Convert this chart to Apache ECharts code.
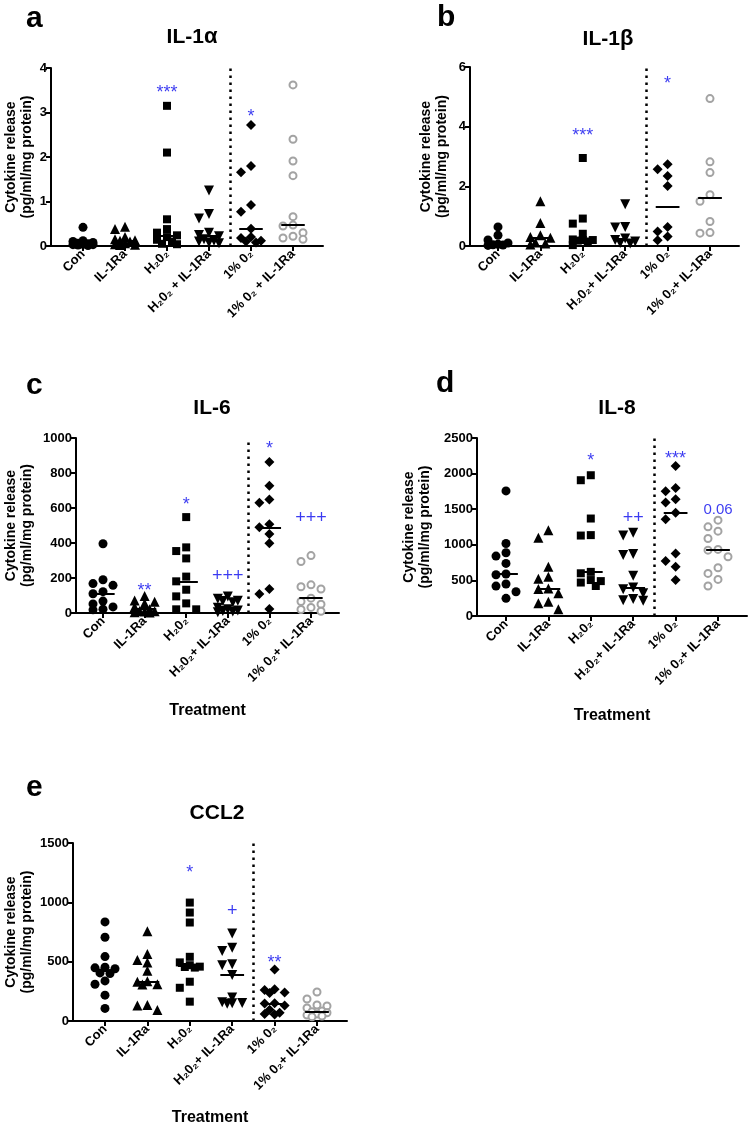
<!DOCTYPE html>
<html>
<head>
<meta charset="utf-8">
<script src="https://cdn.jsdelivr.net/npm/echarts@6/dist/echarts.min.js"></script>
<style>
  html, body { margin: 0; padding: 0; background: #fff; }
  #chart { width: 749px; height: 1127px; }
</style>
</head>
<body>
<div id="chart"></div>
<script>
// ── Datos ────────────────────────────────────────────────
const CATS   = ['Con', 'IL-1Ra', 'H₂0₂', 'H₂0₂+ IL-1Ra', '1% 0₂', '1% 0₂+ IL-1Ra']
const CATS_A = ['Con', 'IL-1Ra', 'H₂0₂', 'H₂0₂ + IL-1Ra', '1% 0₂', '1% 0₂ + IL-1Ra']

// un array por grupo, en el orden de CATS
const IL1A = [
  [0.42, 0.12, 0.1, 0.08, 0.06, 0.05, 0.04, 0.03, 0.03, 0.02, 0.01],
  [0.43, 0.38, 0.2, 0.15, 0.13, 0.12, 0.1, 0.06, 0.04, 0.03, 0.02],
  [3.15, 2.1, 0.6, 0.38, 0.3, 0.24, 0.2, 0.14, 0.1, 0.05, 0.04],
  [1.25, 0.72, 0.62, 0.3, 0.25, 0.22, 0.15, 0.12, 0.1, 0.08, 0.06],
  [2.72, 1.8, 1.66, 0.92, 0.77, 0.39, 0.2, 0.18, 0.12, 0.1, 0.08],
  [3.62, 2.4, 1.91, 1.58, 0.66, 0.47, 0.45, 0.3, 0.22, 0.18, 0.15],
]
const IL1B = [
  [0.64, 0.36, 0.2, 0.1, 0.06, 0.04, 0.03, 0.02],
  [1.5, 0.77, 0.36, 0.3, 0.28, 0.12, 0.08, 0.05],
  [2.95, 0.92, 0.75, 0.41, 0.22, 0.2, 0.2, 0.18, 0.15, 0.03],
  [1.4, 0.64, 0.62, 0.25, 0.2, 0.15, 0.1, 0.08],
  [2.74, 2.57, 2.35, 2.01, 0.64, 0.49, 0.32, 0.19],
  [4.94, 2.82, 2.46, 1.72, 1.5, 0.82, 0.45, 0.43],
]
const IL6 = [
  [396, 190, 168, 158, 122, 110, 68, 52, 35, 22, 18],
  [97, 72, 65, 55, 35, 22, 12, 10, 8, 5, 3],
  [548, 375, 354, 312, 208, 181, 133, 95, 55, 21, 21],
  [95, 82, 70, 68, 62, 30, 22, 15, 12, 8, 5],
  [863, 727, 649, 630, 507, 490, 452, 398, 137, 108, 23],
  [328, 294, 161, 150, 137, 85, 66, 50, 32, 20, 10],
]
const IL8 = [
  [1757, 1019, 888, 841, 739, 590, 580, 449, 420, 341, 248],
  [1206, 1098, 691, 551, 523, 385, 380, 318, 201, 178, 94],
  [1977, 1907, 1369, 1136, 1130, 620, 600, 505, 490, 470, 421],
  [1168, 1131, 870, 855, 565, 402, 374, 318, 240, 220, 215],
  [2108, 1799, 1752, 1640, 1594, 1449, 1360, 879, 771, 692, 505],
  [1346, 1252, 1192, 1089, 935, 925, 832, 678, 598, 514, 421],
]
const CCL2 = [
  [835, 706, 543, 453, 448, 440, 405, 400, 338, 310, 218, 106],
  [757, 564, 513, 494, 423, 336, 330, 310, 308, 135, 130, 93],
  [998, 914, 830, 541, 494, 470, 458, 455, 450, 331, 280, 163],
  [737, 617, 589, 479, 470, 387, 199, 158, 152, 150, 145],
  [435, 267, 262, 240, 235, 150, 148, 130, 95, 70, 60, 55],
  [244, 185, 135, 126, 110, 85, 78, 70, 60, 50, 42, 35],
]

// anotaciones de significancia: [texto, grupo, valor]
const IL1A_MARKS = [['***', 2, 3.53], ['*', 4, 2.98]]
const IL1B_MARKS = [['***', 2, 3.82], ['*', 4, 5.55]]
const IL6_MARKS  = [['**', 1, 150], ['*', 2, 641], ['+++', 3, 214], ['*', 4, 958], ['+++', 5, 541]]
const IL8_MARKS  = [['*', 2, 2234], ['++', 3, 1369], ['***', 4, 2257], ['0.06', 5, 1495]]
const CCL2_MARKS = [['*', 2, 1279], ['+', 3, 928], ['**', 4, 522]]

// ticks del eje Y
const IL1A_YTICKS = [0, 1, 2, 3, 4]
const IL1B_YTICKS = [0, 2, 4, 6]
const IL6_YTICKS  = [0, 200, 400, 600, 800, 1000]
const IL8_YTICKS  = [0, 500, 1000, 1500, 2000, 2500]
const CCL2_YTICKS = [0, 500, 1000, 1500]

// ── Layout ──────────────────────────────────────────────
const FONT = "'Liberation Sans', Arial, sans-serif"
const BLUE = '#0a0aee'

const panels = [
  { letter: 'a', title: '{b|IL-1}{g|α}', data: IL1A, marks: IL1A_MARKS, yt: IL1A_YTICKS, cats: CATS_A,
    left: 51, right: 323, top: 68, bottom: 246, cat0: 83, sp: 42, yGap: 16, lx: 21, ly: -1, tx: 187, ty: 21, treat: null },
  { letter: 'b', title: '{b|IL-1}{g|β}', data: IL1B, marks: IL1B_MARKS, yt: IL1B_YTICKS, cats: CATS,
    left: 470, right: 739, top: 67, bottom: 246, cat0: 498, sp: 42.4, yGap: 20, lx: 432, ly: -2, tx: 603, ty: 23, treat: null },
  { letter: 'c', title: '{b|IL-6}', data: IL6, marks: IL6_MARKS, yt: IL6_YTICKS, cats: CATS,
    left: 76, right: 339, top: 438, bottom: 613, cat0: 103, sp: 41.6, yGap: 41, lx: 21, ly: 366, tx: 207, ty: 393, treat: 90 },
  { letter: 'd', title: '{b|IL-8}', data: IL8, marks: IL8_MARKS, yt: IL8_YTICKS, cats: CATS,
    left: 477, right: 747, top: 438, bottom: 616, cat0: 506, sp: 42.4, yGap: 44, lx: 431, ly: 364, tx: 612, ty: 393, treat: 92 },
  { letter: 'e', title: '{b|CCL2}', data: CCL2, marks: CCL2_MARKS, yt: CCL2_YTICKS, cats: CATS,
    left: 73, right: 347, top: 843, bottom: 1021, cat0: 105, sp: 42.4, yGap: 38, lx: 21, ly: 768, tx: 212, ty: 798, treat: 89 },
]

// símbolo de cada grupo
const GROUP_STYLE = [
  { symbol: 'circle',   size: 9,  rotate: 0 },
  { symbol: 'triangle', size: 10, rotate: 0 },
  { symbol: 'rect',     size: 8,  rotate: 0 },
  { symbol: 'triangle', size: 10, rotate: 180 },
  { symbol: 'diamond',  size: 10, rotate: 0 },
  { symbol: 'circle',   size: 7,  rotate: 0, open: true },
]

function median(arr) {
  const s = [...arr].sort((a, b) => a - b)
  const m = Math.floor(s.length / 2)
  return s.length % 2 ? s[m] : (s[m - 1] + s[m]) / 2
}

/**
 * Beeswarm acotado: columnas en 0, ±10px y ±5px;
 * si ninguna está libre usa la que menos se solapa.
 */
function swarm(values, yPx, catPx) {
  const d = 8, cand = [0, -10, 10, -5, 5]
  const order = values.map((_, i) => i).sort((a, b) => values[b] - values[a])
  const placed = []
  const off = new Array(values.length).fill(0)
  order.forEach(i => {
    const y = values[i] * yPx
    let best = 0, bestDist = -1
    for (const dx of cand) {
      const dist = placed.length ? Math.min(...placed.map(p => Math.hypot(p.x - dx, p.y - y))) : Infinity
      if (dist >= d) { best = dx; break }
      if (dist > bestDist) { bestDist = dist; best = dx }
    }
    placed.push({ x: best, y })
    off[i] = best / catPx
  })
  return off
}

const titles = [], grids = [], xAxes = [], yAxes = [], series = []

panels.forEach((p, i) => {
  const yMax = p.yt[p.yt.length - 1]
  const yInt = p.yt[1] - p.yt[0]
  const yPx = (p.bottom - p.top) / yMax

  titles.push({ text: p.letter, left: p.lx, top: p.ly,
    textStyle: { fontFamily: FONT, fontSize: 30, fontWeight: 'bold', color: '#000' } })
  titles.push({ text: p.title, left: p.tx, top: p.ty, textAlign: 'center',
    textStyle: { fontFamily: FONT, color: '#000',
      rich: { b: { fontFamily: FONT, fontSize: 21, fontWeight: 'bold', color: '#000' },
              g: { fontFamily: FONT, fontSize: 22, color: '#000' } } } })

  grids.push({ left: p.left, top: p.top, width: p.right - p.left, height: p.bottom - p.top })

  xAxes.push({
    gridIndex: i, type: 'value',
    min: (p.left - p.cat0) / p.sp, max: (p.right - p.cat0) / p.sp,
    splitLine: { show: false },
    axisLine: { show: true, onZero: false, lineStyle: { color: '#000', width: 2 } },
    axisTick: { show: true, customValues: [0, 1, 2, 3, 4, 5], length: 5, lineStyle: { color: '#000', width: 2 } },
    axisLabel: { customValues: [0, 1, 2, 3, 4, 5], rotate: 45, margin: 6,
      formatter: v => p.cats[Math.round(v)],
      fontFamily: FONT, fontSize: 13, fontWeight: 'bold', color: '#000' },
    name: p.treat ? 'Treatment' : '', nameLocation: 'middle', nameGap: p.treat || 0,
    nameTextStyle: { fontFamily: FONT, fontSize: 16, fontWeight: 'bold', color: '#000' },
  })

  yAxes.push({
    gridIndex: i, type: 'value', min: 0, max: yMax, interval: yInt,
    splitLine: { show: false },
    axisLine: { show: true, onZero: false, lineStyle: { color: '#000', width: 2 } },
    axisTick: { show: true, length: 5, lineStyle: { color: '#000', width: 2 } },
    axisLabel: { margin: 4, formatter: v => String(v),
      fontFamily: FONT, fontSize: 13, fontWeight: 'bold', color: '#000' },
    name: 'Cytokine release\n(pg/ml/mg protein)', nameLocation: 'middle', nameGap: p.yGap, nameRotate: 90,
    nameTextStyle: { fontFamily: FONT, fontSize: 14, fontWeight: 'bold', color: '#000', lineHeight: 16 },
  })

  p.data.forEach((vals, g) => {
    const st = GROUP_STYLE[g]
    const off = swarm(vals, yPx, p.sp)
    const med = median(vals)
    const s = {
      type: 'scatter', xAxisIndex: i, yAxisIndex: i, silent: true,
      symbol: st.symbol, symbolSize: st.size, symbolRotate: st.rotate,
      itemStyle: st.open
        ? { color: '#fff', borderColor: '#a3a3a3', borderWidth: 2, opacity: 1 }
        : { color: '#000', opacity: 1 },
      data: vals.map((v, k) => [g + off[k], v]),
      markLine: {
        silent: true, symbol: 'none', label: { show: false },
        lineStyle: { color: '#000', width: 2, type: 'solid' },
        data: [[{ coord: [g - 0.28, med] }, { coord: [g + 0.28, med] }]],
      },
    }
    if (g === 0) {
      s.markLine.data.push({ xAxis: 3.5, lineStyle: { color: '#000', width: 2.5, type: [2.5, 4.5] } })
    }
    series.push(s)
  })

  series.push({
    type: 'scatter', xAxisIndex: i, yAxisIndex: i, silent: true,
    symbolSize: 1, itemStyle: { color: 'rgba(0,0,0,0)' },
    data: p.marks.map(m => ({
      name: m[0], value: [m[1], m[2]],
      label: {
        fontSize: m[0] === '0.06' ? 15 : 18,
        offset: m[0].startsWith('*') ? [0, 4] : [0, 0],
      },
    })),
    label: { show: true, position: 'inside', formatter: '{b}', fontFamily: FONT, color: BLUE },
    z: 5,
  })
})

const chart = echarts.init(document.getElementById('chart'), null, { renderer: 'canvas' })
chart.setOption({
  backgroundColor: '#fff',
  animation: false,
  title: titles,
  grid: grids,
  xAxis: xAxes,
  yAxis: yAxes,
  series,
})
</script>
</body>
</html>
